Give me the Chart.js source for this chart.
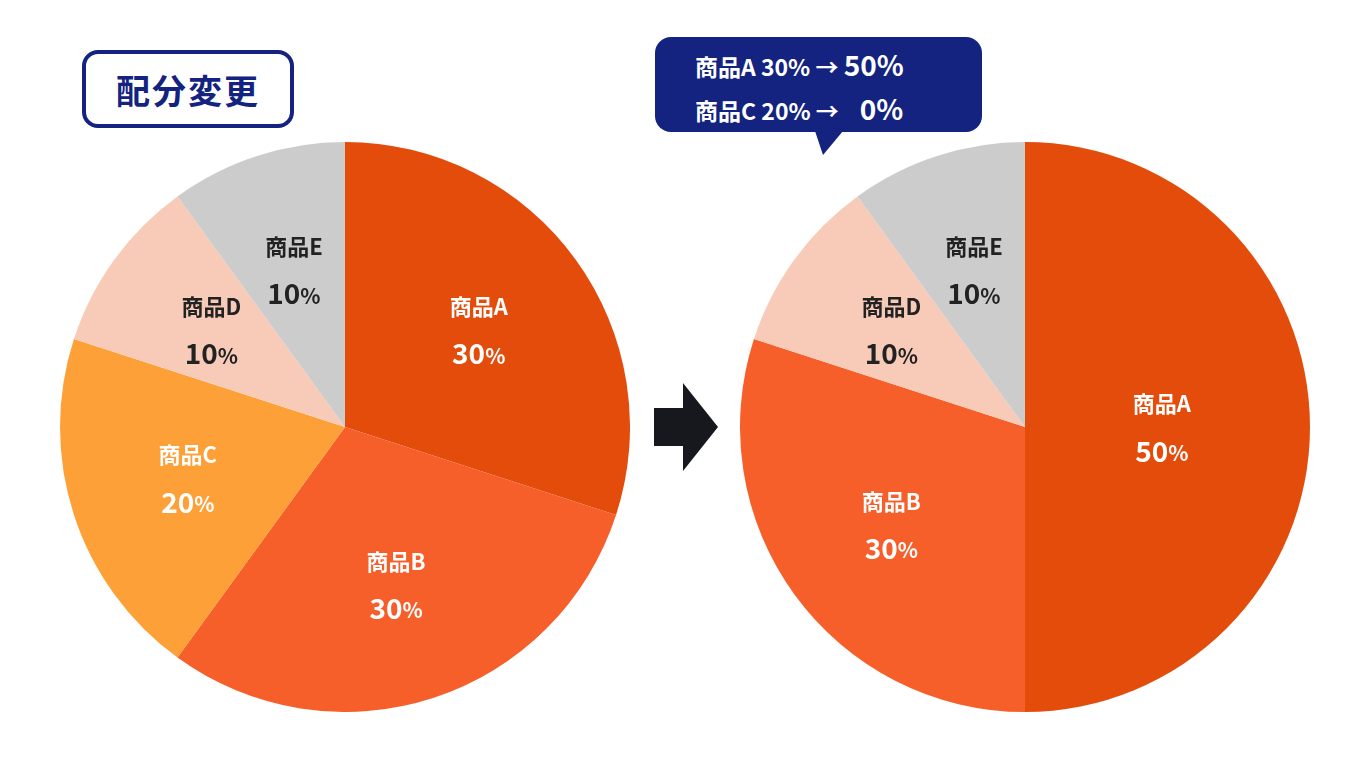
<!DOCTYPE html>
<html><head><meta charset="utf-8">
<script src="https://cdn.jsdelivr.net/npm/chart.js@4"></script>
<style>
body{margin:0;width:1370px;height:760px;background:#fff;position:relative;overflow:hidden;font-family:"Noto Sans CJK JP",sans-serif;}
.cv{position:absolute;top:142px;width:570px;height:570px;}
#tag{position:absolute;left:82px;top:50px;width:204px;height:70px;border:4px solid #13237f;border-radius:16px;box-sizing:border-box;width:212px;height:78px;color:#13237f;font-weight:700;font-size:34px;letter-spacing:2px;display:flex;align-items:center;justify-content:center;}
#bubble{position:absolute;left:655px;top:37px;width:327px;height:95px;background:#13237f;border-radius:16px;color:#fff;font-weight:700;font-size:23px;line-height:42px;padding-top:6px;box-sizing:border-box;}
#bubble div{white-space:pre;padding-left:40px}
#tail{position:absolute;left:815px;top:131px;width:0;height:0;border-left:8px solid transparent;border-right:20px solid transparent;border-top:24px solid #13237f;}
</style></head><body>
<div id="tag">配分変更</div>
<div id="bubble"><div>商品A 30% → <span style="font-size:28px">50%</span></div><div>商品C 20% →    <span style="font-size:28px">0%</span></div></div>
<div id="tail"></div>
<svg style="position:absolute;left:650px;top:380px" width="80" height="95"><polygon points="4,28 33,28 33,3 68,47 33,91 33,66 4,66" fill="#16181d"/></svg>
<div class="cv" style="left:60px"><canvas id="c1"></canvas></div>
<div class="cv" style="left:740px"><canvas id="c2"></canvas></div>
<script>
const categories = ['商品A', '商品B', '商品C', '商品D', '商品E'];
const beforeValues = [30, 30, 20, 10, 10];
const afterValues = [50, 30, 0, 10, 10];
const colors = ['#e34c0b', '#f75f2a', '#fda038', '#f8cbb8', '#cccccc'];
const textColors = ['#fff', '#fff', '#fff', '#222', '#222'];

const labelPlugin = {
    id: 'sliceLabels',
    afterDatasetsDraw(chart) {
        const ctx = chart.ctx;
        const meta = chart.getDatasetMeta(0);
        const vals = chart.data.datasets[0].data;
        meta.data.forEach((arc, i) => {
            if (!vals[i]) return;
            const mid = (arc.startAngle + arc.endAngle) / 2;
            const f = vals[i] >= 50 ? 0.48 : 0.58;
            const x = arc.x + Math.cos(mid) * arc.outerRadius * f;
            const y = arc.y + Math.sin(mid) * arc.outerRadius * f;
            ctx.save();
            ctx.fillStyle = textColors[i];
            ctx.textAlign = 'center';
            ctx.textBaseline = 'middle';
            ctx.font = 'bold 22px "Noto Sans CJK JP"';
            ctx.fillText(categories[i], x, y - 23);
            ctx.font = 'bold 28px "Noto Sans CJK JP"';
            const num = String(vals[i]);
            const nw = ctx.measureText(num).width;
            ctx.font = 'bold 21px "Noto Sans CJK JP"';
            const pw = ctx.measureText('%').width;
            ctx.textAlign = 'left';
            ctx.font = 'bold 28px "Noto Sans CJK JP"';
            ctx.fillText(num, x - (nw + pw) / 2, y + 24);
            ctx.font = 'bold 21px "Noto Sans CJK JP"';
            ctx.fillText('%', x - (nw + pw) / 2 + nw, y + 26);
            ctx.restore();
        });
    }
};

function makePie(id, values) {
    return new Chart(document.getElementById(id), {
        type: 'pie',
        data: {
            labels: categories,
            datasets: [{ data: values, backgroundColor: colors, borderWidth: 0 }]
        },
        options: {
            responsive: true,
            maintainAspectRatio: false,
            animation: false,
            layout: { padding: 0 },
            plugins: { legend: { display: false }, tooltip: { enabled: false } }
        },
        plugins: [labelPlugin]
    });
}

makePie('c1', beforeValues);
makePie('c2', afterValues);
</script>
</body></html>
